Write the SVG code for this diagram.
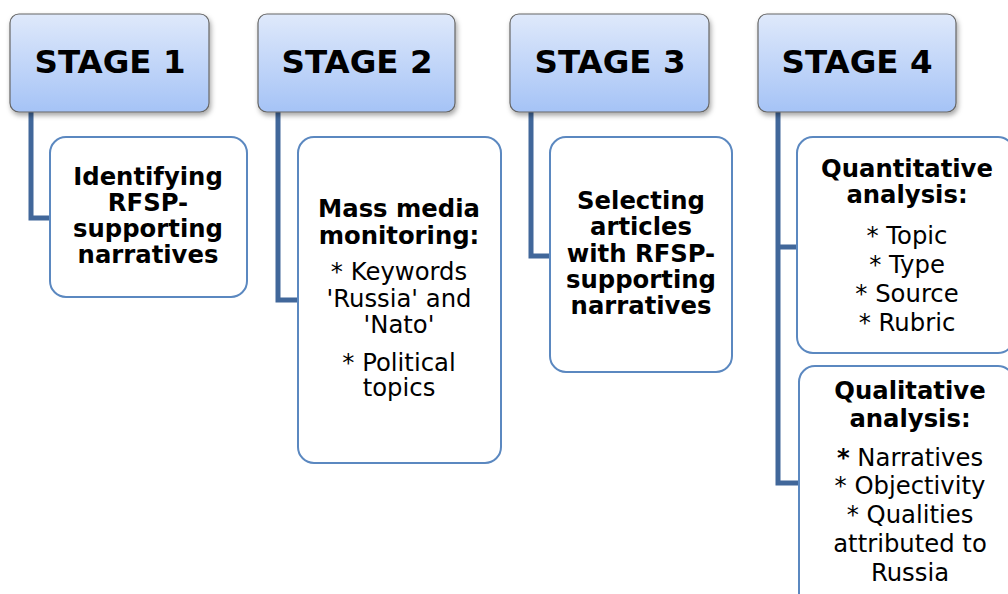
<svg xmlns="http://www.w3.org/2000/svg" width="1008" height="594" viewBox="0 0 1008 594">
  <defs>
    <linearGradient id="headFill" x1="0" y1="0" x2="0" y2="1">
      <stop offset="0" stop-color="#dfe9fb"/>
      <stop offset="1" stop-color="#a5c3f6"/>
    </linearGradient>
    <filter id="headShadow" x="-10%" y="-10%" width="125%" height="135%">
      <feDropShadow dx="1.5" dy="3" stdDeviation="2.5" flood-color="#000" flood-opacity="0.35"/>
    </filter>
  </defs>
  <style>
    .head { fill: url(#headFill); stroke: #666; stroke-width: 1.2; filter: url(#headShadow); }
    .box { fill: #fff; stroke: #5b88c0; stroke-width: 2; }
    .link { fill: none; stroke: #41679a; stroke-width: 5; stroke-linejoin: miter; }
    text { font-family: "DejaVu Sans", Verdana, sans-serif; fill: #000; text-anchor: middle; }
    .h { font-size: 32.5px; font-weight: bold; }
    .b { font-size: 24.3px; font-weight: bold; }
    .r { font-size: 24.3px; }
  </style>

  <!-- connectors from each stage header to its sub-boxes -->
  <g id="connectors">
    <path class="link" d="M31,112 V218 H50"/>
    <path class="link" d="M278,112 V300 H298"/>
    <path class="link" d="M531,112 V256 H550"/>
    <path class="link" d="M778,112 V483 H799 M778,247 H797"/>
  </g>

  <!-- stage 1 -->
  <g id="stage1">
    <rect class="head" x="10" y="14" width="199" height="98" rx="9"/>
    <text class="h" x="110" y="73">STAGE 1</text>
  </g>
  <g id="stage1-task">
    <rect class="box" x="50" y="137" width="197" height="160" rx="16"/>
    <text class="b" x="148" y="185">Identifying</text>
    <text class="b" x="148" y="211">RFSP-</text>
    <text class="b" x="148" y="237">supporting</text>
    <text class="b" x="148" y="263">narratives</text>
  </g>

  <!-- stage 2 -->
  <g id="stage2">
    <rect class="head" x="258" y="14" width="197" height="98" rx="9"/>
    <text class="h" x="357" y="73">STAGE 2</text>
  </g>
  <g id="stage2-task">
    <rect class="box" x="298" y="137" width="203" height="326" rx="16"/>
    <text class="b" x="399" y="217">Mass media</text>
    <text class="b" x="399" y="244">monitoring:</text>
    <text class="r" x="399" y="280">* Keywords</text>
    <text class="r" x="399" y="307">'Russia' and</text>
    <text class="r" x="399" y="333">'Nato'</text>
    <text class="r" x="399" y="371">* Political</text>
    <text class="r" x="399" y="396">topics</text>
  </g>

  <!-- stage 3 -->
  <g id="stage3">
    <rect class="head" x="510" y="14" width="199" height="98" rx="9"/>
    <text class="h" x="610" y="73">STAGE 3</text>
  </g>
  <g id="stage3-task">
    <rect class="box" x="550" y="137" width="182" height="235" rx="16"/>
    <text class="b" x="641" y="209">Selecting</text>
    <text class="b" x="641" y="235">articles</text>
    <text class="b" x="641" y="262">with RFSP-</text>
    <text class="b" x="641" y="288">supporting</text>
    <text class="b" x="641" y="314">narratives</text>
  </g>

  <!-- stage 4 -->
  <g id="stage4">
    <rect class="head" x="758" y="14" width="198" height="98" rx="9"/>
    <text class="h" x="857" y="73">STAGE 4</text>
  </g>
  <g id="stage4-quantitative">
    <rect class="box" x="797" y="137" width="217" height="216" rx="16"/>
    <text class="b" x="907" y="177">Quantitative</text>
    <text class="b" x="907" y="203">analysis:</text>
    <text class="r" x="907" y="244">* Topic</text>
    <text class="r" x="907" y="273">* Type</text>
    <text class="r" x="907" y="302">* Source</text>
    <text class="r" x="907" y="331">* Rubric</text>
  </g>
  <g id="stage4-qualitative">
    <rect class="box" x="799" y="366" width="215" height="250" rx="16"/>
    <text class="b" x="910" y="399">Qualitative</text>
    <text class="b" x="910" y="427">analysis:</text>
    <text class="r" x="910" y="466"><tspan font-weight="bold">*</tspan> Narratives</text>
    <text class="r" x="910" y="494">* Objectivity</text>
    <text class="r" x="910" y="523">* Qualities</text>
    <text class="r" x="910" y="552">attributed to</text>
    <text class="r" x="910" y="581">Russia</text>
  </g>
</svg>
